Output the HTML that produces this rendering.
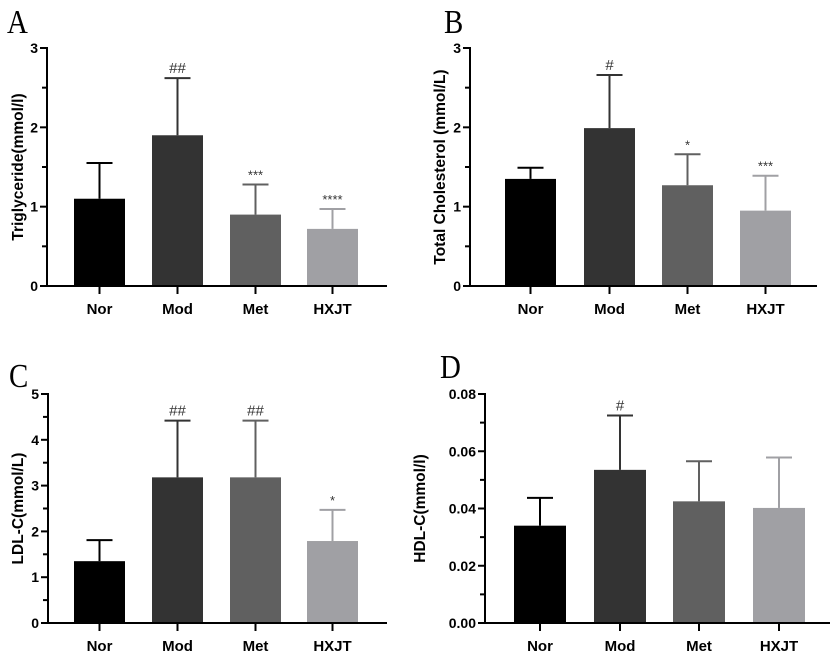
<!DOCTYPE html>
<html><head><meta charset="utf-8"><style>
body{margin:0;background:#fff;width:837px;height:653px;overflow:hidden}
svg{display:block;font-family:"Liberation Sans",sans-serif}
</style></head><body>
<svg id="c" width="837" height="653" viewBox="0 0 837 653"></svg>
<script>
const categories=["Nor","Mod","Met","HXJT"];
const colors=["#000000","#333333","#606060","#a0a0a4"];
const valuesA=[1.1,1.9,0.9,0.72];
const errorsA=[1.55,2.62,1.28,0.97];
const marksA=["","##","***","****"];
const valuesB=[1.35,1.99,1.27,0.95];
const errorsB=[1.49,2.66,1.66,1.39];
const marksB=["","#","*","***"];
const valuesC=[1.35,3.18,3.18,1.79];
const errorsC=[1.81,4.42,4.42,2.47];
const marksC=["","##","##","*"];
const valuesD=[0.034,0.0535,0.0425,0.0402];
const errorsD=[0.0437,0.0725,0.0565,0.0578];
const marksD=["","#","",""];
const ticksA=["0","1","2","3"];
const ticksC=["0","1","2","3","4","5"];
const ticksD=["0.00","0.02","0.04","0.06","0.08"];
const NS="http://www.w3.org/2000/svg";
const svg=document.getElementById('c');
function mk(t,a,p){const e=document.createElementNS(NS,t);for(const k in a)e.setAttribute(k,a[k]);(p||svg).appendChild(e);return e;}
function panel(cfg){
  const g=mk('g',{});
  
  
  const y=v=>cfg.y0-(v/cfg.max)*(cfg.y0-cfg.y1);
  const L=mk('text',{x:cfg.lx,y:cfg.ly,'font-family':'"Liberation Serif",serif','font-size':34,transform:`translate(${cfg.lx} 0) scale(0.85 1) translate(${-cfg.lx} 0)`},g);L.textContent=cfg.letter;
  
  cfg.vals.forEach((v,i)=>{
    const x=cfg.bx[i],w=cfg.bw,cx=x+w/2,c=colors[i];
    const eb=mk('line',{x1:cx,x2:cx,y1:y(v),y2:y(cfg.errs[i]),stroke:c,'stroke-width':2},g);
    
    const cap=mk('line',{x1:cx-13,x2:cx+13,y1:y(cfg.errs[i]),y2:y(cfg.errs[i]),stroke:c,'stroke-width':2},g);
    
    const r=mk('rect',{x:x,y:y(v),width:w,height:cfg.y0-y(v),fill:c},g);
    
    if(cfg.marks[i]){const m=mk('text',{x:cx,y:y(cfg.errs[i])-5,'text-anchor':'middle','font-size':cfg.marks[i][0]=='#'?15:13,fill:'#333'},g);m.textContent=cfg.marks[i];
      }
    mk('line',{x1:cx,x2:cx,y1:cfg.y0,y2:cfg.y0+8,stroke:'#000','stroke-width':2},g);
    const lb=mk('text',{x:cx,y:cfg.y0+28,'text-anchor':'middle','font-size':15,'font-weight':'bold'},g);lb.textContent=categories[i];
    
  });
  const ya=mk('line',{x1:cfg.ax,x2:cfg.ax,y1:cfg.y1-1,y2:cfg.y0+1,stroke:'#000','stroke-width':2},g);
  
  const xa=mk('line',{x1:cfg.ax,x2:cfg.xend,y1:cfg.y0,y2:cfg.y0,stroke:'#000','stroke-width':2},g);
  
  const n=cfg.ticks.length-1;
  for(let k=0;k<=n*2;k++){
    const v=cfg.max*k/(n*2),yy=y(v),major=k%2==0;
    mk('line',{x1:cfg.ax-(major?7:5),x2:cfg.ax,y1:yy,y2:yy,stroke:'#000','stroke-width':2},g);
    if(major){const t=mk('text',{x:cfg.ax-9,y:yy+5,'text-anchor':'end','font-size':14,'font-weight':'bold'},g);t.textContent=cfg.ticks[k/2];
      }
  }
  const ym=(cfg.y0+cfg.y1)/2;
  const yt=mk('text',{x:cfg.tx,y:ym,'text-anchor':'middle','font-size':15.5,'font-weight':'bold',transform:`rotate(-90 ${cfg.tx} ${ym})`},g);
  yt.textContent=cfg.title;
}
panel({name:'panel-a-triglyceride',letter:'A',lx:7,ly:33,ax:47,xend:387,y0:286,y1:48,max:3,vals:valuesA,errs:errorsA,marks:marksA,ticks:ticksA,bx:[74,152,230,307],bw:51,title:'Triglyceride(mmol/l)',tx:23});
panel({name:'panel-b-total-cholesterol',letter:'B',lx:444,ly:33,ax:470,xend:817,y0:286,y1:48,max:3,vals:valuesB,errs:errorsB,marks:marksB,ticks:ticksA,bx:[505,584,662,740],bw:51,title:'Total Cholesterol (mmol/L)',tx:445});
panel({name:'panel-c-ldl',letter:'C',lx:9,ly:387,ax:48,xend:387,y0:623,y1:394,max:5,vals:valuesC,errs:errorsC,marks:marksC,ticks:ticksC,bx:[74,152,230,307],bw:51,title:'LDL-C(mmol/L)',tx:23});
panel({name:'panel-d-hdl',letter:'D',lx:440,ly:378,ax:485,xend:830,y0:623,y1:394,max:0.08,vals:valuesD,errs:errorsD,marks:marksD,ticks:ticksD,bx:[514,594,673,753],bw:52,title:'HDL-C(mmol/l)',tx:425});
</script>
</body></html>
